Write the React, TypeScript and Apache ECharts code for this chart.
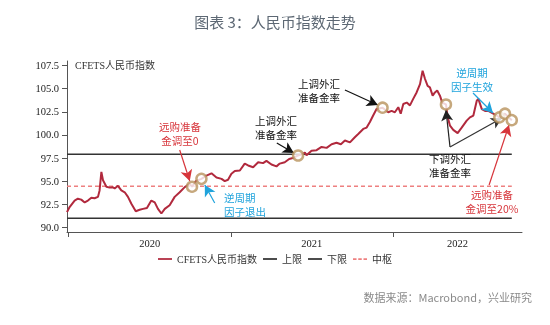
import React, { useEffect, useRef } from "react";
import * as echarts from "echarts";

// CFETS RMB index (decimal years)
const dates: number[] = [
  2019.99, 2020.006, 2020.037, 2020.057, 2020.078, 2020.099, 2020.119, 2020.14, 2020.16, 2020.181,
  2020.191, 2020.202, 2020.212, 2020.233, 2020.253, 2020.273, 2020.284, 2020.304, 2020.325, 2020.346,
  2020.366, 2020.387, 2020.414, 2020.438, 2020.459, 2020.483, 2020.51, 2020.531, 2020.551, 2020.572,
  2020.593, 2020.623, 2020.654, 2020.685, 2020.716, 2020.747, 2020.761, 2020.784, 2020.819, 2020.85,
  2020.881, 2020.912, 2020.943, 2020.963, 2020.983, 2021.004, 2021.025, 2021.056, 2021.086, 2021.107,
  2021.138, 2021.169, 2021.199, 2021.22, 2021.251, 2021.282, 2021.302, 2021.333, 2021.36, 2021.383,
  2021.415, 2021.438, 2021.457, 2021.467, 2021.498, 2021.529, 2021.56, 2021.591, 2021.622, 2021.652,
  2021.679, 2021.704, 2021.735, 2021.765, 2021.786, 2021.817, 2021.838, 2021.858, 2021.878, 2021.899,
  2021.936, 2021.971, 2021.992, 2022.012, 2022.033, 2022.048, 2022.064, 2022.085, 2022.105, 2022.125,
  2022.146, 2022.167, 2022.183, 2022.198, 2022.214, 2022.228, 2022.245, 2022.259, 2022.273, 2022.29,
  2022.304, 2022.327, 2022.338, 2022.352, 2022.372, 2022.399, 2022.424, 2022.455, 2022.475, 2022.496,
  2022.517, 2022.527, 2022.548, 2022.568, 2022.588, 2022.619, 2022.64, 2022.656, 2022.691, 2022.733,
];
const values: number[] = [
  91.65, 92.2, 92.9, 93.1, 93.0, 92.7, 92.9, 93.2, 93.15, 93.3,
  94.0, 96.0, 95.1, 94.4, 94.3, 94.35, 94.2, 94.5, 94.0, 93.8,
  93.3, 92.55, 91.75, 91.9, 92.0, 92.1, 92.9, 92.7, 92.0, 91.5,
  92.0, 92.4, 93.3, 93.8, 94.35, 94.7, 94.4, 95.0, 95.25, 95.6,
  95.85, 95.4, 95.25, 95.0, 95.15, 95.8, 96.1, 96.15, 96.9, 96.7,
  96.5, 97.05, 96.95, 97.2, 96.8, 96.6, 96.9, 97.05, 97.4, 97.5,
  97.78, 97.9, 98.1, 97.8, 98.3, 98.35, 98.7, 98.6, 99.0, 99.15,
  99.0, 99.4, 99.2, 99.75, 100.1, 100.65, 100.8, 101.4, 102.1, 102.8,
  102.95, 102.45, 102.6, 102.45, 103.0, 102.3, 103.35, 103.5, 103.2, 103.9,
  104.6, 105.5, 106.95, 106.05, 105.3, 105.15, 104.25, 104.6, 104.8, 104.25,
  103.5, 103.3, 101.9, 101.0, 100.55, 100.2, 100.8, 101.55, 101.9, 102.1,
  103.7, 103.9, 102.8, 102.6, 102.6, 102.3, 102.1, 101.9, 102.3, 101.6,
];

// Policy events (circled points)
const eventDates: number[] = [2020.761, 2020.819, 2021.415, 2021.936, 2022.327, 2022.656, 2022.691, 2022.733];
const eventValues: number[] = [94.4, 95.25, 97.78, 102.95, 103.3, 101.9, 102.3, 101.6];

// Band
const upperLimit = 97.9;
const lowerLimit = 91.0;
const middleLine = 94.45;

const seriesNames = ["CFETS人民币指数", "上限", "下限", "中枢"];
const yTicks: number[] = [90, 92.5, 95, 97.5, 100, 102.5, 105, 107.5];
const yearTicks: number[] = [2020, 2021, 2022];
const yearLabelPos: number[] = [2020.5, 2021.5, 2022.398];

// Annotation arrows: [tailX, tailY, headX, headY, color]
const arrows: [number, number, number, number, string][] = [
  [2020.685, 98.37, 2020.747, 95.02, "#d7353b"],
  [2020.901, 92.64, 2020.84, 94.58, "#1fa3dc"],
  [2021.284, 99.13, 2021.389, 98.05, "#111111"],
  [2021.704, 104.86, 2021.907, 103.24, "#111111"],
  [2022.352, 98.7, 2022.327, 102.7, "#222222"],
  [2022.352, 98.7, 2022.673, 101.83, "#333333"],
  [2022.494, 104.54, 2022.617, 102.37, "#1fa3dc"],
  [2022.593, 94.58, 2022.716, 101.08, "#d7353b"],
];

const RED = "#b1293d";
const SERIF = "'Liberation Serif', 'Noto Sans CJK SC', serif";
const CJK = "'Noto Sans CJK SC', sans-serif";

const LINE_ICON = "path://M0,0H16V2H0Z";
const DASH_ICON = "path://M0,0H4V2H0Z M6,0H10V2H6Z M12,0H16V2H12Z";

export default function App() {
  const ref = useRef<HTMLDivElement>(null);
  useEffect(() => {
    document.body.style.margin = "0";
    const chart = echarts.init(ref.current!, null, { renderer: "svg" });
    const xMin = 2019.99;
    const xMax = 2022.796;
    const xEnd = dates[dates.length - 1];
    const hLine = (v: number) => [[dates[0], v], [xEnd, v]];

    const annText = (lines: string[], x: number, y: number, color: string, align = "center") =>
      lines.map((t, i) => ({
        type: "text",
        style: {
          text: t,
          x,
          y: y + i * 14,
          fill: color,
          align,
          verticalAlign: "middle",
          fontSize: 10.5,
          fontFamily: CJK,
        },
        z: 100,
      }));

    chart.setOption({
      animation: false,
      grid: { left: 67, right: 28, top: 61, bottom: 93, outerBoundsMode: "none" },
      xAxis: {
        type: "value",
        min: xMin,
        max: xMax,
        axisLine: { show: true, lineStyle: { color: "#555", width: 1 } },
        axisTick: { show: true, customValues: yearTicks, length: 5, lineStyle: { color: "#555" } },
        axisLabel: {
          customValues: yearLabelPos,
          formatter: (v: number) => String(Math.floor(v)),
          fontFamily: SERIF,
          fontSize: 10.5,
          color: "#222",
          margin: 6,
        },
        splitLine: { show: false },
      },
      yAxis: {
        type: "value",
        min: 89.5,
        max: 108,
        axisLine: { show: true, lineStyle: { color: "#555", width: 1 } },
        axisTick: { show: true, customValues: yTicks, length: 5, lineStyle: { color: "#555" } },
        axisLabel: {
          customValues: yTicks,
          formatter: (v: number) => v.toFixed(1),
          fontFamily: SERIF,
          fontSize: 10.5,
          color: "#222",
          margin: 8,
        },
        splitLine: { show: false },
      },
      legend: {
        data: [
          { name: seriesNames[0], icon: LINE_ICON },
          { name: seriesNames[1], icon: LINE_ICON },
          { name: seriesNames[2], icon: LINE_ICON },
          { name: seriesNames[3], icon: DASH_ICON },
        ],
        left: "center",
        top: 249,
        itemWidth: 14,
        itemHeight: 2,
        itemGap: 6,
        textStyle: { fontSize: 10, color: "#333", fontFamily: SERIF },
      },
      series: [
        {
          name: seriesNames[1],
          type: "line",
          data: hLine(upperLimit),
          symbol: "none",
          lineStyle: { color: "#333", width: 1.5 },
          itemStyle: { color: "#333" },
          z: 2,
        },
        {
          name: seriesNames[2],
          type: "line",
          data: hLine(lowerLimit),
          symbol: "none",
          lineStyle: { color: "#333", width: 1.5 },
          itemStyle: { color: "#333" },
          z: 2,
        },
        {
          name: seriesNames[3],
          type: "line",
          data: hLine(middleLine),
          symbol: "none",
          lineStyle: { color: "#ee8080", width: 1.5, type: [4, 3] },
          itemStyle: { color: "#ee8080" },
          z: 2,
        },
        {
          name: seriesNames[0],
          type: "line",
          data: dates.map((d, i) => [d, values[i]]),
          symbol: "none",
          lineStyle: { color: RED, width: 2 },
          itemStyle: { color: RED },
          z: 3,
        },
        {
          name: "events",
          type: "scatter",
          data: eventDates.map((d, i) => [d, eventValues[i]]),
          symbol: "circle",
          symbolSize: 10,
          itemStyle: { color: "#ffffff", borderColor: "#b8925c", borderWidth: 2.5 },
          z: 5,
          markLine: {
            silent: true,
            symbol: ["none", "arrow"],
            symbolSize: [9, 11],
            label: { show: false },
            data: arrows.map(([x1, y1, x2, y2, c]) => [
              { coord: [x1, y1], lineStyle: { color: c, width: 1.2, type: "solid" } },
              { coord: [x2, y2] },
            ]),
          },
        },
      ],
      graphic: [
        {
          type: "text",
          style: {
            text: "图表 3：人民币指数走势",
            x: 275,
            y: 21,
            align: "center",
            verticalAlign: "middle",
            fontSize: 15,
            fill: "#5d6874",
            fontFamily: CJK,
          },
        },
        {
          type: "text",
          style: {
            text: "数据来源：Macrobond，兴业研究",
            x: 532,
            y: 297,
            align: "right",
            verticalAlign: "middle",
            fontSize: 11,
            fill: "#8a8a8a",
            fontFamily: CJK,
          },
        },
        {
          type: "text",
          style: {
            text: "CFETS人民币指数",
            x: 75,
            y: 65,
            align: "left",
            verticalAlign: "middle",
            fontSize: 10,
            fill: "#333",
            fontFamily: SERIF,
          },
        },
        ...annText(["远购准备", "金调至0"], 180, 126, "#d7353b"),
        ...annText(["逆周期", "因子退出"], 224, 197, "#1fa3dc", "left"),
        ...annText(["上调外汇", "准备金率"], 276, 120, "#111"),
        ...annText(["上调外汇", "准备金率"], 319, 83, "#111"),
        ...annText(["下调外汇", "准备金率"], 450, 158, "#111"),
        ...annText(["逆周期", "因子生效"], 472, 72, "#1fa3dc"),
        ...annText(["远购准备", "金调至20%"], 492, 194, "#d7353b"),
      ],
    });
    return () => chart.dispose();
  }, []);
  return <div ref={ref} style={{ position: "fixed", left: 0, top: 0, width: 550, height: 325 }} />;
}
